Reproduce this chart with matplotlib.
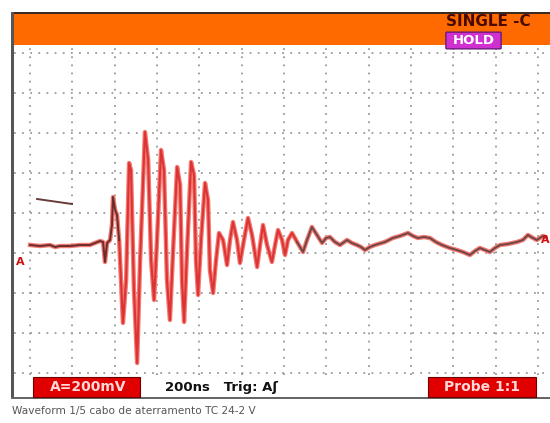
"""
Scope screenshot: waveform 1/5, grounding cable TC 24-2 V
"""
import matplotlib
matplotlib.use('Agg')
import matplotlib.pyplot as plt
from matplotlib.patches import Rectangle, FancyBboxPatch
import numpy as np

W, H = 550, 423

# trace: time in ns (200 ns/div), amplitude in mV (200 mV/div)
time_ns = [0, 47, 94, 118, 142, 189, 236, 283, 307, 331,
           345, 354, 364, 378, 387, 392, 402, 411, 421, 439,
           454, 468, 477, 491, 506, 520, 543, 558, 572, 586,
           600, 619, 633, 647, 661, 676, 695, 709, 718, 728,
           742, 761, 775, 784, 794, 808, 827, 841, 850, 865,
           879, 893, 912, 931, 945, 959, 978, 992, 1011, 1030,
           1049, 1073, 1087, 1101, 1120, 1143, 1158, 1172, 1191, 1205,
           1219, 1238, 1262, 1290, 1309, 1332, 1356, 1380, 1399, 1417,
           1441, 1465, 1498, 1521, 1545, 1564, 1583, 1606, 1630, 1677,
           1715, 1748, 1786, 1810, 1833, 1862, 1890, 1918, 1947, 1984,
           2017, 2046, 2079, 2103, 2126, 2150, 2173, 2197, 2221, 2258,
           2301, 2329, 2353, 2377, 2395, 2424, 2447]
volt_mV = [-160, -165, -160, -170, -165, -165, -160, -160, -150, -140,
           -145, -245, -150, -135, -60, 80, 15, -10, -135, -550,
           -335, 250, 215, -385, -750, -235, 405, 265, -235, -435,
           -135, 315, 215, -335, -535, -185, 230, 140, -335, -545,
           -185, 255, 190, -235, -410, -135, 150, 65, -285, -400,
           -235, -100, -135, -260, -135, -45, -135, -250, -135, -25,
           -110, -270, -160, -60, -160, -245, -160, -85, -135, -210,
           -135, -100, -145, -195, -135, -70, -110, -150, -125, -120,
           -145, -160, -135, -150, -160, -170, -185, -170, -160, -145,
           -125, -115, -100, -115, -125, -120, -125, -145, -160, -175,
           -185, -195, -210, -190, -175, -185, -195, -175, -160, -155,
           -145, -135, -110, -125, -135, -115, -125]

burst_start, burst_end = 18, 72   # indices of the red burst

# loose reference stub at the upper left
stub_t = [33, 198]
stub_v = [70, 45]

fig = plt.figure(figsize=(W / 100, H / 100), dpi=100)
fig.patch.set_facecolor('white')


def fx(x):
    return x / W


def fy(y):
    return 1 - y / H


# plot area
ax = fig.add_axes([fx(14), fy(375), fx(548) - fx(14), fy(45) - fy(375)])
ax.set_xlim(-76, 2448)
ax.set_ylim(-810, 840)
ax.set_facecolor('white')
for s in ax.spines.values():
    s.set_visible(False)
ax.set_xticks([])
ax.set_yticks([])

grid = dict(color='#9a9a9a', lw=1.3, ls=(0, (1, 3.5)), zorder=1)
for gx in range(0, 2401, 200):
    ax.axvline(gx, **grid)
for gy in range(-800, 801, 200):
    ax.axhline(gy, **grid)

t = np.array(time_ns)
v = np.array(volt_mV)
ax.plot(t, v, color='#f47a72', lw=3.2, zorder=3, solid_joinstyle='round')
ax.plot(t[burst_start:burst_end + 1], v[burst_start:burst_end + 1],
        color='#dc3434', lw=1.5, zorder=4)
ax.plot(t[:burst_start + 1], v[:burst_start + 1], color='#6a2c2c', lw=1.4, zorder=5)
ax.plot(t[burst_end:], v[burst_end:], color='#6e4646', lw=1.4, zorder=5)
ax.plot(stub_t, stub_v, color='#6a3a3a', lw=1.4, zorder=5)

# orange header and frame
fig.add_artist(Rectangle((fx(12), fy(45)), fx(550) - fx(12), fy(12) - fy(45),
                         transform=fig.transFigure, facecolor='#ff6a00', edgecolor='none'))
fig.add_artist(Rectangle((fx(12), fy(14)), fx(550) - fx(12), fy(12) - fy(14),
                         transform=fig.transFigure, facecolor='#3a2a20', edgecolor='none'))
fig.add_artist(Rectangle((fx(11), fy(399)), fx(3), fy(12) - fy(399),
                         transform=fig.transFigure, facecolor='#555555', edgecolor='none'))
fig.add_artist(Rectangle((fx(11), fy(399)), fx(550) - fx(11), fy(397) - fy(399),
                         transform=fig.transFigure, facecolor='#666666', edgecolor='none'))

fig.text(fx(446), fy(22), 'SINGLE -C', fontsize=11, fontweight='bold',
         color='#4a0a00', va='center', ha='left')
fig.add_artist(FancyBboxPatch((fx(447), fy(48)), fx(53), fy(33) - fy(48),
                              boxstyle='round,pad=0.002', transform=fig.transFigure,
                              facecolor='#d030d0', edgecolor='#6a1a7a', lw=1))
fig.text(fx(473.5), fy(40.5), 'HOLD', fontsize=9.5, fontweight='bold',
         color='white', va='center', ha='center')

# channel markers
fig.text(fx(20), fy(262), 'A', fontsize=8, fontweight='bold', color='#d01010',
         va='center', ha='center')
fig.text(fx(545), fy(240), 'A', fontsize=8, fontweight='bold', color='#d01010',
         va='center', ha='center')

# status bar
fig.add_artist(Rectangle((fx(33), fy(397)), fx(107), fy(377) - fy(397),
                         transform=fig.transFigure, facecolor='#e00000', edgecolor='#700000', lw=0.8))
fig.text(fx(88), fy(387), 'A=200mV', fontsize=10, fontweight='bold', color='#ffd8d8',
         va='center', ha='center')
fig.text(fx(165), fy(387), '200ns   Trig: A\u0283', fontsize=9.5, fontweight='bold',
         color='#111111', va='center', ha='left')
fig.add_artist(Rectangle((fx(428), fy(397)), fx(108), fy(377) - fy(397),
                         transform=fig.transFigure, facecolor='#e00000', edgecolor='#700000', lw=0.8))
fig.text(fx(482), fy(387), 'Probe 1:1', fontsize=10, fontweight='bold', color='#ffd8d8',
         va='center', ha='center')

fig.text(fx(12), fy(411), 'Waveform 1/5 cabo de aterramento TC 24-2 V', fontsize=7.6,
         color='#555555', va='center', ha='left')

plt.savefig('out.png', dpi=100)
